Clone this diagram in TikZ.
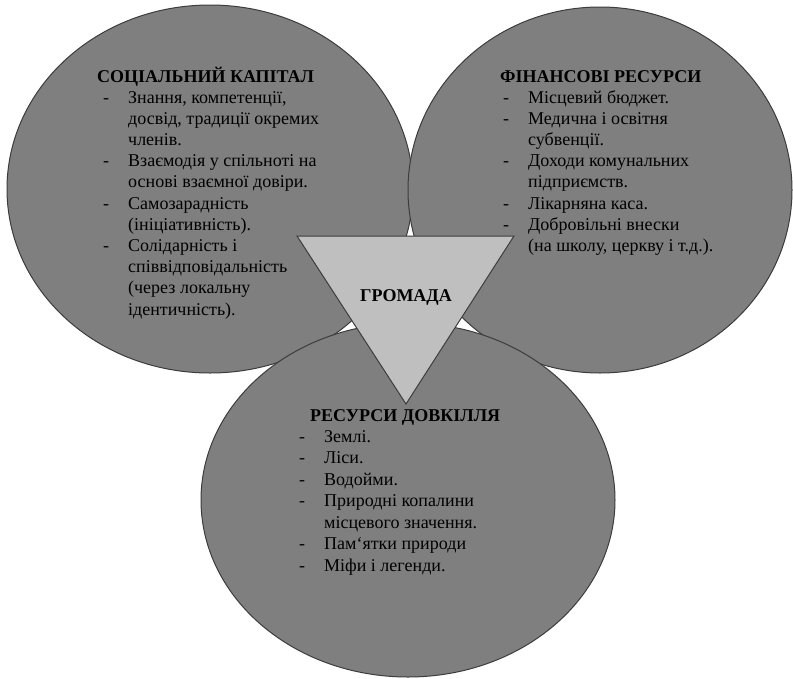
\documentclass[tikz,border=0pt]{standalone}
\usepackage{fontspec}
\setmainfont{Liberation Serif}
\usetikzlibrary{shapes.geometric}
\definecolor{bubblefill}{HTML}{7F7F7F}
\definecolor{bubbleline}{HTML}{3C3C3C}
\definecolor{trifill}{HTML}{BFBFBF}
\tikzset{
  bubble/.style={ellipse, draw=bubbleline, fill=bubblefill, line width=1pt, inner sep=0pt},
  tri/.style={draw=bubbleline, fill=trifill, line width=1pt, line join=miter},
  headtext/.style={anchor=base west, inner sep=0pt, font=\fontsize{18}{21.2}\selectfont\bfseries},
  listblock/.style={anchor=base west, inner sep=0pt, font=\fontsize{18}{21.2}\selectfont},
  listblockb/.style={anchor=base west, inner sep=0pt, font=\fontsize{18}{21.5}\selectfont}
}
\begin{document}
\begin{tikzpicture}[x=1pt,y=-1pt]
\useasboundingbox (0,0) rectangle (793,678);
\fill[white] (0,0) rectangle (793,678);
\node[bubble, minimum width=406pt, minimum height=368pt] (social) at (210,189) {};
\node[bubble, minimum width=384pt, minimum height=366pt] (finance) at (600,190) {};
\node[bubble, minimum width=414pt, minimum height=354pt] (environment) at (408,500) {};
\coordinate (tl) at (297,236);
\coordinate (tr) at (514,236);
\coordinate (tb) at (406,404);
\draw[tri] (tl) -- (tr) -- (tb) -- cycle;
\node[font=\fontsize{18}{21.2}\selectfont\bfseries, inner sep=0pt] (hromada) at (406,297) {ГРОМАДА};

\node[headtext] (socialhead) at (97,82) {СОЦІАЛЬНИЙ КАПІТАЛ};
\node[listblock] (sociallist) at (103,103) {\begin{tabular}[t]{@{}p{25pt}@{}l@{}}
-&Знання, компетенції,\\
&досвід, традиції окремих\\
&членів.\\
-&Взаємодія у спільноті на\\
&основі взаємної довіри.\\
-&Самозарадність\\
&(ініціативність).\\
-&Солідарність і\\
&співвідповідальність\\
&(через локальну\\
&ідентичність).
\end{tabular}};

\node[headtext] (financehead) at (500,82) {ФІНАНСОВІ РЕСУРСИ};
\node[listblock] (financelist) at (503,103) {\begin{tabular}[t]{@{}p{25pt}@{}l@{}}
-&Місцевий бюджет.\\
-&Медична і освітня\\
&субвенції.\\
-&Доходи комунальних\\
&підприємств.\\
-&Лікарняна каса.\\
-&Добровільні внески\\
&(на школу, церкву і т.д.).
\end{tabular}};

\node[headtext] (envhead) at (310,421) {РЕСУРСИ ДОВКІЛЛЯ};
\node[listblockb] (envlist) at (299,442) {\begin{tabular}[t]{@{}p{25pt}@{}l@{}}
-&Землі.\\
-&Ліси.\\
-&Водойми.\\
-&Природні копалини\\
&місцевого значення.\\
-&Пам‘ятки природи\\
-&Міфи і легенди.
\end{tabular}};
\end{tikzpicture}
\end{document}
